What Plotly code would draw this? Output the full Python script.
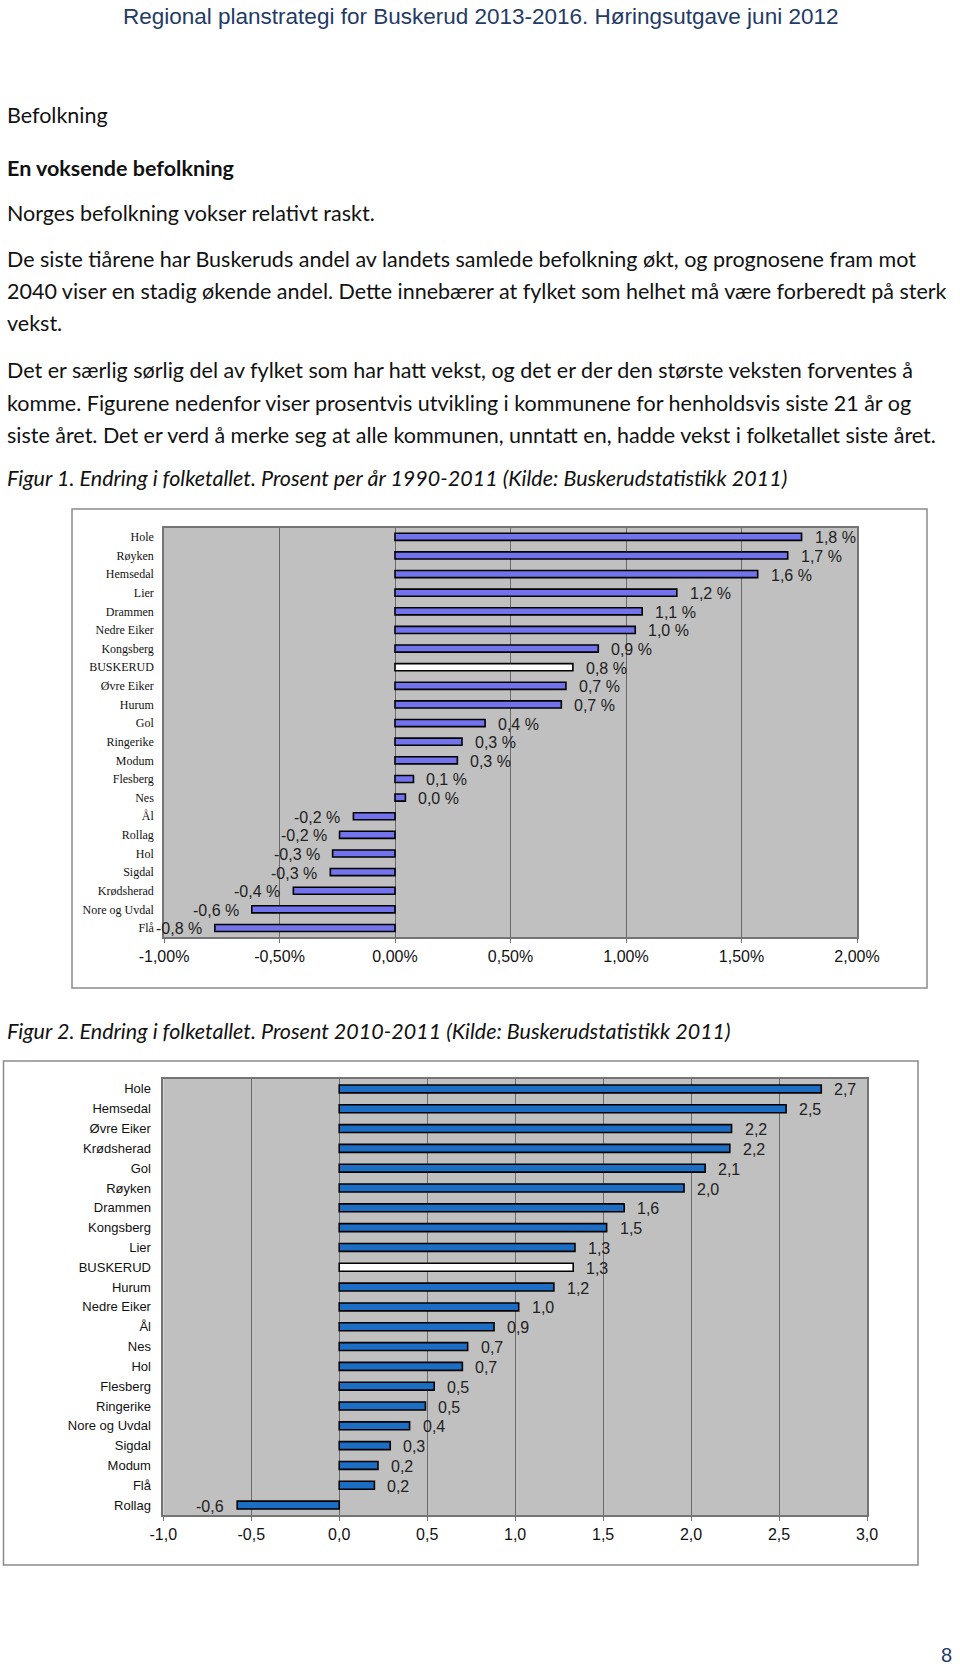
import plotly.graph_objects as go

W, H = 960, 1670

# ---------------- DATA ----------------
# Figure 1: average annual change 1990-2011 (%)
c1_names = ["Hole", "Røyken", "Hemsedal", "Lier", "Drammen", "Nedre Eiker", "Kongsberg",
            "BUSKERUD", "Øvre Eiker", "Hurum", "Gol", "Ringerike", "Modum", "Flesberg",
            "Nes", "Ål", "Rollag", "Hol", "Sigdal", "Krødsherad", "Nore og Uvdal", "Flå"]
c1_values = [1.76, 1.70, 1.57, 1.22, 1.07, 1.04, 0.88,
             0.77, 0.74, 0.72, 0.39, 0.29, 0.27, 0.08,
             0.045, -0.18, -0.24, -0.27, -0.28, -0.44, -0.62, -0.78]
c1_tickvals = [-1.0, -0.5, 0.0, 0.5, 1.0, 1.5, 2.0]
c1_ticktext = ["-1,00%", "-0,50%", "0,00%", "0,50%", "1,00%", "1,50%", "2,00%"]

# Figure 2: change 2010-2011 (%)
c2_names = ["Hole", "Hemsedal", "Øvre Eiker", "Krødsherad", "Gol", "Røyken", "Drammen",
            "Kongsberg", "Lier", "BUSKERUD", "Hurum", "Nedre Eiker", "Ål", "Nes", "Hol",
            "Flesberg", "Ringerike", "Nore og Uvdal", "Sigdal", "Modum", "Flå", "Rollag"]
c2_values = [2.74, 2.54, 2.23, 2.22, 2.08, 1.96, 1.62,
             1.52, 1.34, 1.33, 1.22, 1.02, 0.88, 0.73, 0.70,
             0.54, 0.49, 0.40, 0.29, 0.22, 0.20, -0.58]
c2_tickvals = [-1.0, -0.5, 0.0, 0.5, 1.0, 1.5, 2.0, 2.5, 3.0]
c2_ticktext = ["-1,0", "-0,5", "0,0", "0,5", "1,0", "1,5", "2,0", "2,5", "3,0"]

header = "Regional planstrategi for Buskerud 2013-2016. Høringsutgave juni 2012"
body_lines = [
    ("Befolkning", 115),
    ("<b>En voksende befolkning</b>", 168),
    ("Norges befolkning vokser relativt raskt.", 213),
    ("De siste tiårene har Buskeruds andel av landets samlede befolkning økt, og prognosene fram mot", 259),
    ("2040 viser en stadig økende andel. Dette innebærer at fylket som helhet må være forberedt på sterk", 291),
    ("vekst.", 323),
    ("Det er særlig sørlig del av fylket som har hatt vekst, og det er der den største veksten forventes å", 370),
    ("komme. Figurene nedenfor viser prosentvis utvikling i kommunene for henholdsvis siste 21 år og", 403),
    ("siste året. Det er verd å merke seg at alle kommunen, unntatt en, hadde vekst i folketallet siste året.", 435),
    ("<i>Figur 1. Endring i folketallet. Prosent per år 1990-2011 (Kilde: Buskerudstatistikk 2011)</i>", 478),
    ("<i>Figur 2. Endring i folketallet. Prosent 2010-2011 (Kilde: Buskerudstatistikk 2011)</i>", 1031),
]
page_number = "8"


def px(x):
    return x / W


def py(y):
    return 1 - y / H


SANS = "Liberation Sans, Arial, sans-serif"
SERIF = "Liberation Serif, Times New Roman, serif"
BODY = "Lato, Carlito, Calibri, sans-serif"

fig = go.Figure()

# ---------- Chart 1 ----------
c1_colors = ["#ffffff" if n == "BUSKERUD" else "#7373ee" for n in c1_names]
fig.add_trace(go.Bar(
    x=c1_values, y=c1_names, orientation="h", xaxis="x", yaxis="y",
    marker=dict(color=c1_colors, line=dict(color="#000000", width=1.6)),
    width=0.38, hoverinfo="skip", showlegend=False,
))

# ---------- Chart 2 ----------
c2_colors = ["#ffffff" if n == "BUSKERUD" else "#1b6ec4" for n in c2_names]
fig.add_trace(go.Bar(
    x=c2_values, y=c2_names, orientation="h", xaxis="x2", yaxis="y3",
    marker=dict(color=c2_colors, line=dict(color="#000000", width=1.6)),
    width=0.4, hoverinfo="skip", showlegend=False,
))

annotations = []
for n, v in zip(c1_names, c1_values):
    lab = f"{v:.1f}".replace(".", ",") + " %"
    annotations.append(dict(
        x=v, y=n, xref="x", yref="y", text=lab, showarrow=False,
        xanchor="left" if v >= 0 else "right", xshift=11 if v >= 0 else -11, yshift=-1,
        font=dict(family=SANS, size=16, color="#222222"),
    ))
for n, v in zip(c2_names, c2_values):
    lab = f"{v:.1f}".replace(".", ",")
    annotations.append(dict(
        x=v, y=n, xref="x2", yref="y3", text=lab, showarrow=False,
        xanchor="left" if v >= 0 else "right", xshift=11 if v >= 0 else -11, yshift=-1,
        font=dict(family=SANS, size=16, color="#222222"),
    ))

# header, body text, page number
annotations.append(dict(
    x=0.5, y=py(16), xref="paper", yref="paper", text=header, showarrow=False,
    xanchor="center", yanchor="middle",
    font=dict(family="Liberation Sans Narrow, Arial Narrow, Liberation Sans, Arial", size=22.5, color="#1f3b66"),
))
for txt, yc in body_lines:
    annotations.append(dict(
        x=px(5), y=py(yc), xref="paper", yref="paper", text=txt, showarrow=False,
        xanchor="left", yanchor="middle",
        font=dict(family=BODY, size=21.5, color="#111111"),
    ))
annotations.append(dict(
    x=px(946), y=py(1655), xref="paper", yref="paper", text=page_number, showarrow=False,
    xanchor="center", yanchor="middle",
    font=dict(family=SANS, size=20, color="#1f3b66"),
))

# chart frames
shapes = [
    dict(type="rect", xref="paper", yref="paper", x0=px(72), x1=px(927), y0=py(988), y1=py(509),
         line=dict(color="#8a8a8a", width=1.5), fillcolor="rgba(0,0,0,0)", layer="below"),
    dict(type="rect", xref="paper", yref="paper", x0=px(3.5), x1=px(918), y0=py(1565), y1=py(1061),
         line=dict(color="#8a8a8a", width=1.5), fillcolor="rgba(0,0,0,0)", layer="below"),
]

X1 = [px(164), px(857)]
Y1 = [py(937.3), py(527.5)]
X2 = [px(163.3), px(867)]
Y2 = [py(1515), py(1079)]

zero1 = X1[0] + (0 - (-1.0)) / 3.0 * (X1[1] - X1[0])
zero2 = X2[0] + (0 - (-1.0)) / 4.0 * (X2[1] - X2[0])

n1 = len(c1_names)
n2 = len(c2_names)

common_x = dict(showgrid=True, gridcolor="#6a6a6a", gridwidth=1, zeroline=False,
                showline=True, linecolor="#747474", linewidth=1.5, mirror=True,
                ticks="outside", ticklen=4, tickcolor="#747474", automargin=False,
                tickfont=dict(family=SANS, size=16, color="#111111"), fixedrange=True)

fig.update_layout(
    template="none",
    width=W, height=H, margin=dict(l=0, r=0, t=0, b=0, pad=0, autoexpand=False),
    paper_bgcolor="#ffffff", plot_bgcolor="#c0c0c0",
    showlegend=False, bargap=0.6,
    xaxis=dict(domain=X1, anchor="y", range=[-1.0, 2.0], tickvals=c1_tickvals, ticktext=c1_ticktext, **common_x),
    yaxis=dict(domain=Y1, anchor="x", type="category", categoryorder="array", categoryarray=c1_names,
               range=[n1 - 0.5, -0.5], showline=True, mirror=True, linecolor="#747474", linewidth=1.5,
               ticks="", showgrid=False, ticklabelstandoff=6, automargin=False, fixedrange=True,
               tickfont=dict(family=SERIF, size=12, color="#111111")),
    yaxis2=dict(overlaying="y", anchor="free", position=zero1, side="left",
                range=[n1 - 0.5, -0.5], tickvals=[i - 0.5 for i in range(n1 + 1)],
                ticks="outside", ticklen=3, tickcolor="#333333", showline=True, linecolor="#222222",
                linewidth=1, showticklabels=False, showgrid=False, zeroline=False, automargin=False,
                fixedrange=True),
    xaxis2=dict(domain=X2, anchor="y3", range=[-1.0, 3.0], tickvals=c2_tickvals, ticktext=c2_ticktext, **common_x),
    yaxis3=dict(domain=Y2, anchor="x2", type="category", categoryorder="array", categoryarray=c2_names,
                range=[n2 - 0.5, -0.5], showline=True, mirror=True, linecolor="#747474", linewidth=1.5,
                ticks="", showgrid=False, ticklabelstandoff=8, automargin=False, fixedrange=True,
                tickfont=dict(family=SANS, size=13, color="#111111")),
    yaxis4=dict(overlaying="y3", anchor="free", position=zero2, side="left",
                range=[n2 - 0.5, -0.5], tickvals=[i - 0.5 for i in range(n2 + 1)],
                ticks="outside", ticklen=3, tickcolor="#333333", showline=True, linecolor="#222222",
                linewidth=1, showticklabels=False, showgrid=False, zeroline=False, automargin=False,
                fixedrange=True),
    annotations=annotations,
    shapes=shapes,
)

fig.write_html("out.html", config={"displayModeBar": False},
               post_script="document.body.style.margin='0';")
